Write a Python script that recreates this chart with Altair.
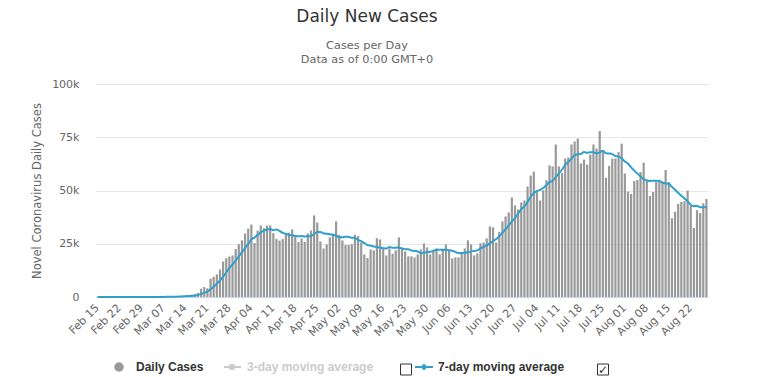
import altair as alt
import pandas as pd

# ---- data ----
dates = pd.date_range("2020-02-15", "2020-08-27", freq="D")
day_labels = [d.strftime("%b %d") for d in dates]

feb = [0, 0, 0, 0, 0, 0, 0, 2, 0, 0, 1, 0, 3, 6, 4]
mar = [9, 23, 20, 31, 68, 45, 140, 116, 65, 376, 322, 382, 516, 548, 772, 1000, 1300,
       1900, 3900, 4700, 4100, 8600, 9500, 10600, 12900, 16700, 18200, 19000, 19500, 22500, 24800]
apr = [26600, 29800, 32100, 34000, 25300, 31200, 33600, 32300, 33600, 33600,
       30000, 27300, 26500, 27200, 29400, 30200, 31700, 28600, 25800, 27500,
       25800, 29800, 31200, 38300, 35000, 26100, 22800, 24700, 28000, 29700]
may = [35500, 29200, 26600, 24400, 24400, 24800, 29200, 28600, 25600, 20000,
       18300, 22300, 21900, 27600, 27000, 23100, 19500, 22800, 20300, 21900,
       28000, 23300, 21400, 19100, 19100, 18600, 20000, 22300, 25200, 23300, 20000]
jun = [21900, 22800, 20000, 22300, 24700, 21900, 18100, 18600, 18600, 20500,
       22800, 26600, 24700, 19500, 20500, 25200, 25600, 27500, 33100, 32700,
       25600, 30600, 35500, 37800, 39700, 46700, 43000, 41100, 44400, 45300]
jul = [51900, 57000, 58900, 49500, 45300, 50100, 54800, 61800, 61300, 71600,
       61300, 58200, 65000, 65500, 71600, 73000, 74400, 62700, 64500, 62200,
       66900, 71600, 69700, 77900, 68000, 56000, 61500, 65000, 65000, 68000, 72000]
aug = [58000, 49500, 48400, 54500, 55000, 58700, 63000, 54500, 47400, 49300,
       54000, 54000, 54000, 59600, 54000, 37000, 40000, 43700, 44600, 45000,
       50000, 43000, 32400, 40800, 39400, 44000, 46000]

daily_cases = feb + mar + apr + may + jun + jul + aug
tick_labels = day_labels[::7]
y_ticks = [0, 25000, 50000, 75000, 100000]

df = pd.DataFrame({"day": day_labels, "idx": list(range(len(day_labels))), "cases": daily_cases})

FONT = "DejaVu Sans"
BAR = "#999999"
BLUE = "#2f9fcb"

x_enc = alt.X(
    "day:O", sort=day_labels,
    scale=alt.Scale(paddingInner=0.3, paddingOuter=0.15),
    axis=alt.Axis(values=tick_labels, labelAngle=-45, labelAlign="right", labelBaseline="middle",
                  labelPadding=9, ticks=False, grid=False, domainColor="#ccd6eb",
                  labelColor="#666666", labelFont=FONT, labelFontSize=11, labelOverlap=False,
                  title=None),
)
y_enc = alt.Y(
    "cases:Q", scale=alt.Scale(domain=[0, 100000], nice=False),
    axis=alt.Axis(values=y_ticks,
                  labelExpr="datum.value == 0 ? '0' : (datum.value / 1000) + 'k'",
                  gridColor="#e6e6e6", domain=False, ticks=False, labelColor="#666666",
                  labelFont=FONT, labelFontSize=11, labelPadding=17,
                  title="Novel Coronavirus Daily Cases", titleColor="#666666", titleFont=FONT,
                  titleFontSize=11.5, titleFontWeight="normal", titleX=-59, titleY=106.5,
                  titleAngle=-90, titleAlign="center", titleBaseline="middle"),
)

base = alt.Chart(df)
bars = base.mark_bar(color=BAR).encode(x=x_enc, y=y_enc)
ma = base.transform_window(
    ma7="mean(cases)", frame=[-6, 0], sort=[alt.SortField("idx")]
).mark_line(color=BLUE, strokeWidth=2, interpolate="monotone").encode(
    x=alt.X("day:O", sort=day_labels), y=alt.Y("ma7:Q")
)

# ---- legend (drawn by hand) ----
one = pd.DataFrame({"k": [0]})
OX, OY = 96, 84
LY = 367


def ltext(s, x, color):
    return alt.Chart(one).mark_text(
        text=s, align="left", baseline="middle", font="Liberation Sans", fontSize=12,
        fontWeight="bold", color=color
    ).encode(x=alt.value(x - OX), y=alt.value(LY - OY))


def lpoint(x, shape, color, size, y=LY):
    return alt.Chart(one).mark_point(shape=shape, filled=True, color=color, size=size, opacity=1).encode(
        x=alt.value(x - OX), y=alt.value(y - OY))


def lrule(x1, x2, color):
    return alt.Chart(one).mark_rule(color=color, strokeWidth=2).encode(
        x=alt.value(x1 - OX), x2=alt.value(x2 - OX), y=alt.value(LY - OY))


def lbox(x):
    return alt.Chart(one).mark_point(shape="square", filled=False, color="#333333", size=121,
                                     strokeWidth=1, opacity=1).encode(
        x=alt.value(x - OX), y=alt.value(LY + 2.5 - OY))


check = alt.Chart(one).mark_text(
    text="\u2713", align="center", baseline="middle", font=FONT, fontSize=12, color="#333333"
).encode(x=alt.value(603 - OX), y=alt.value(LY + 2.5 - OY))

legend = [
    lpoint(119, "circle", BAR, 90),
    ltext("Daily Cases", 136, "#333333"),
    lrule(224, 241, "#cccccc"),
    lpoint(232, "circle", "#cccccc", 40),
    ltext("3-day moving average", 247, "#cccccc"),
    lbox(406),
    lrule(415, 433, BLUE),
    lpoint(424, "diamond", BLUE, 50),
    ltext("7-day moving average", 438, "#333333"),
    lbox(603),
    check,
]

chart = alt.layer(bars, ma, *legend).properties(
    width=612, height=213,
    autosize=alt.AutoSizeParams(type="none"),
    padding={"left": 96, "top": 84, "right": 51, "bottom": 80},
    title=alt.Title(
        "Daily New Cases",
        subtitle=["Cases per Day", "Data as of 0:00 GMT+0"],
        anchor="middle", frame="group", dx=-35, offset=12,
        font=FONT, fontSize=17, fontWeight="normal", color="#333333",
        subtitleFont=FONT, subtitleFontSize=11.3, subtitleColor="#666666",
        subtitlePadding=14, subtitleLineHeight=14,
    ),
).configure(background="white").configure_view(stroke=None)

chart.save("out.html", embed_options={"renderer": "svg", "actions": False})
